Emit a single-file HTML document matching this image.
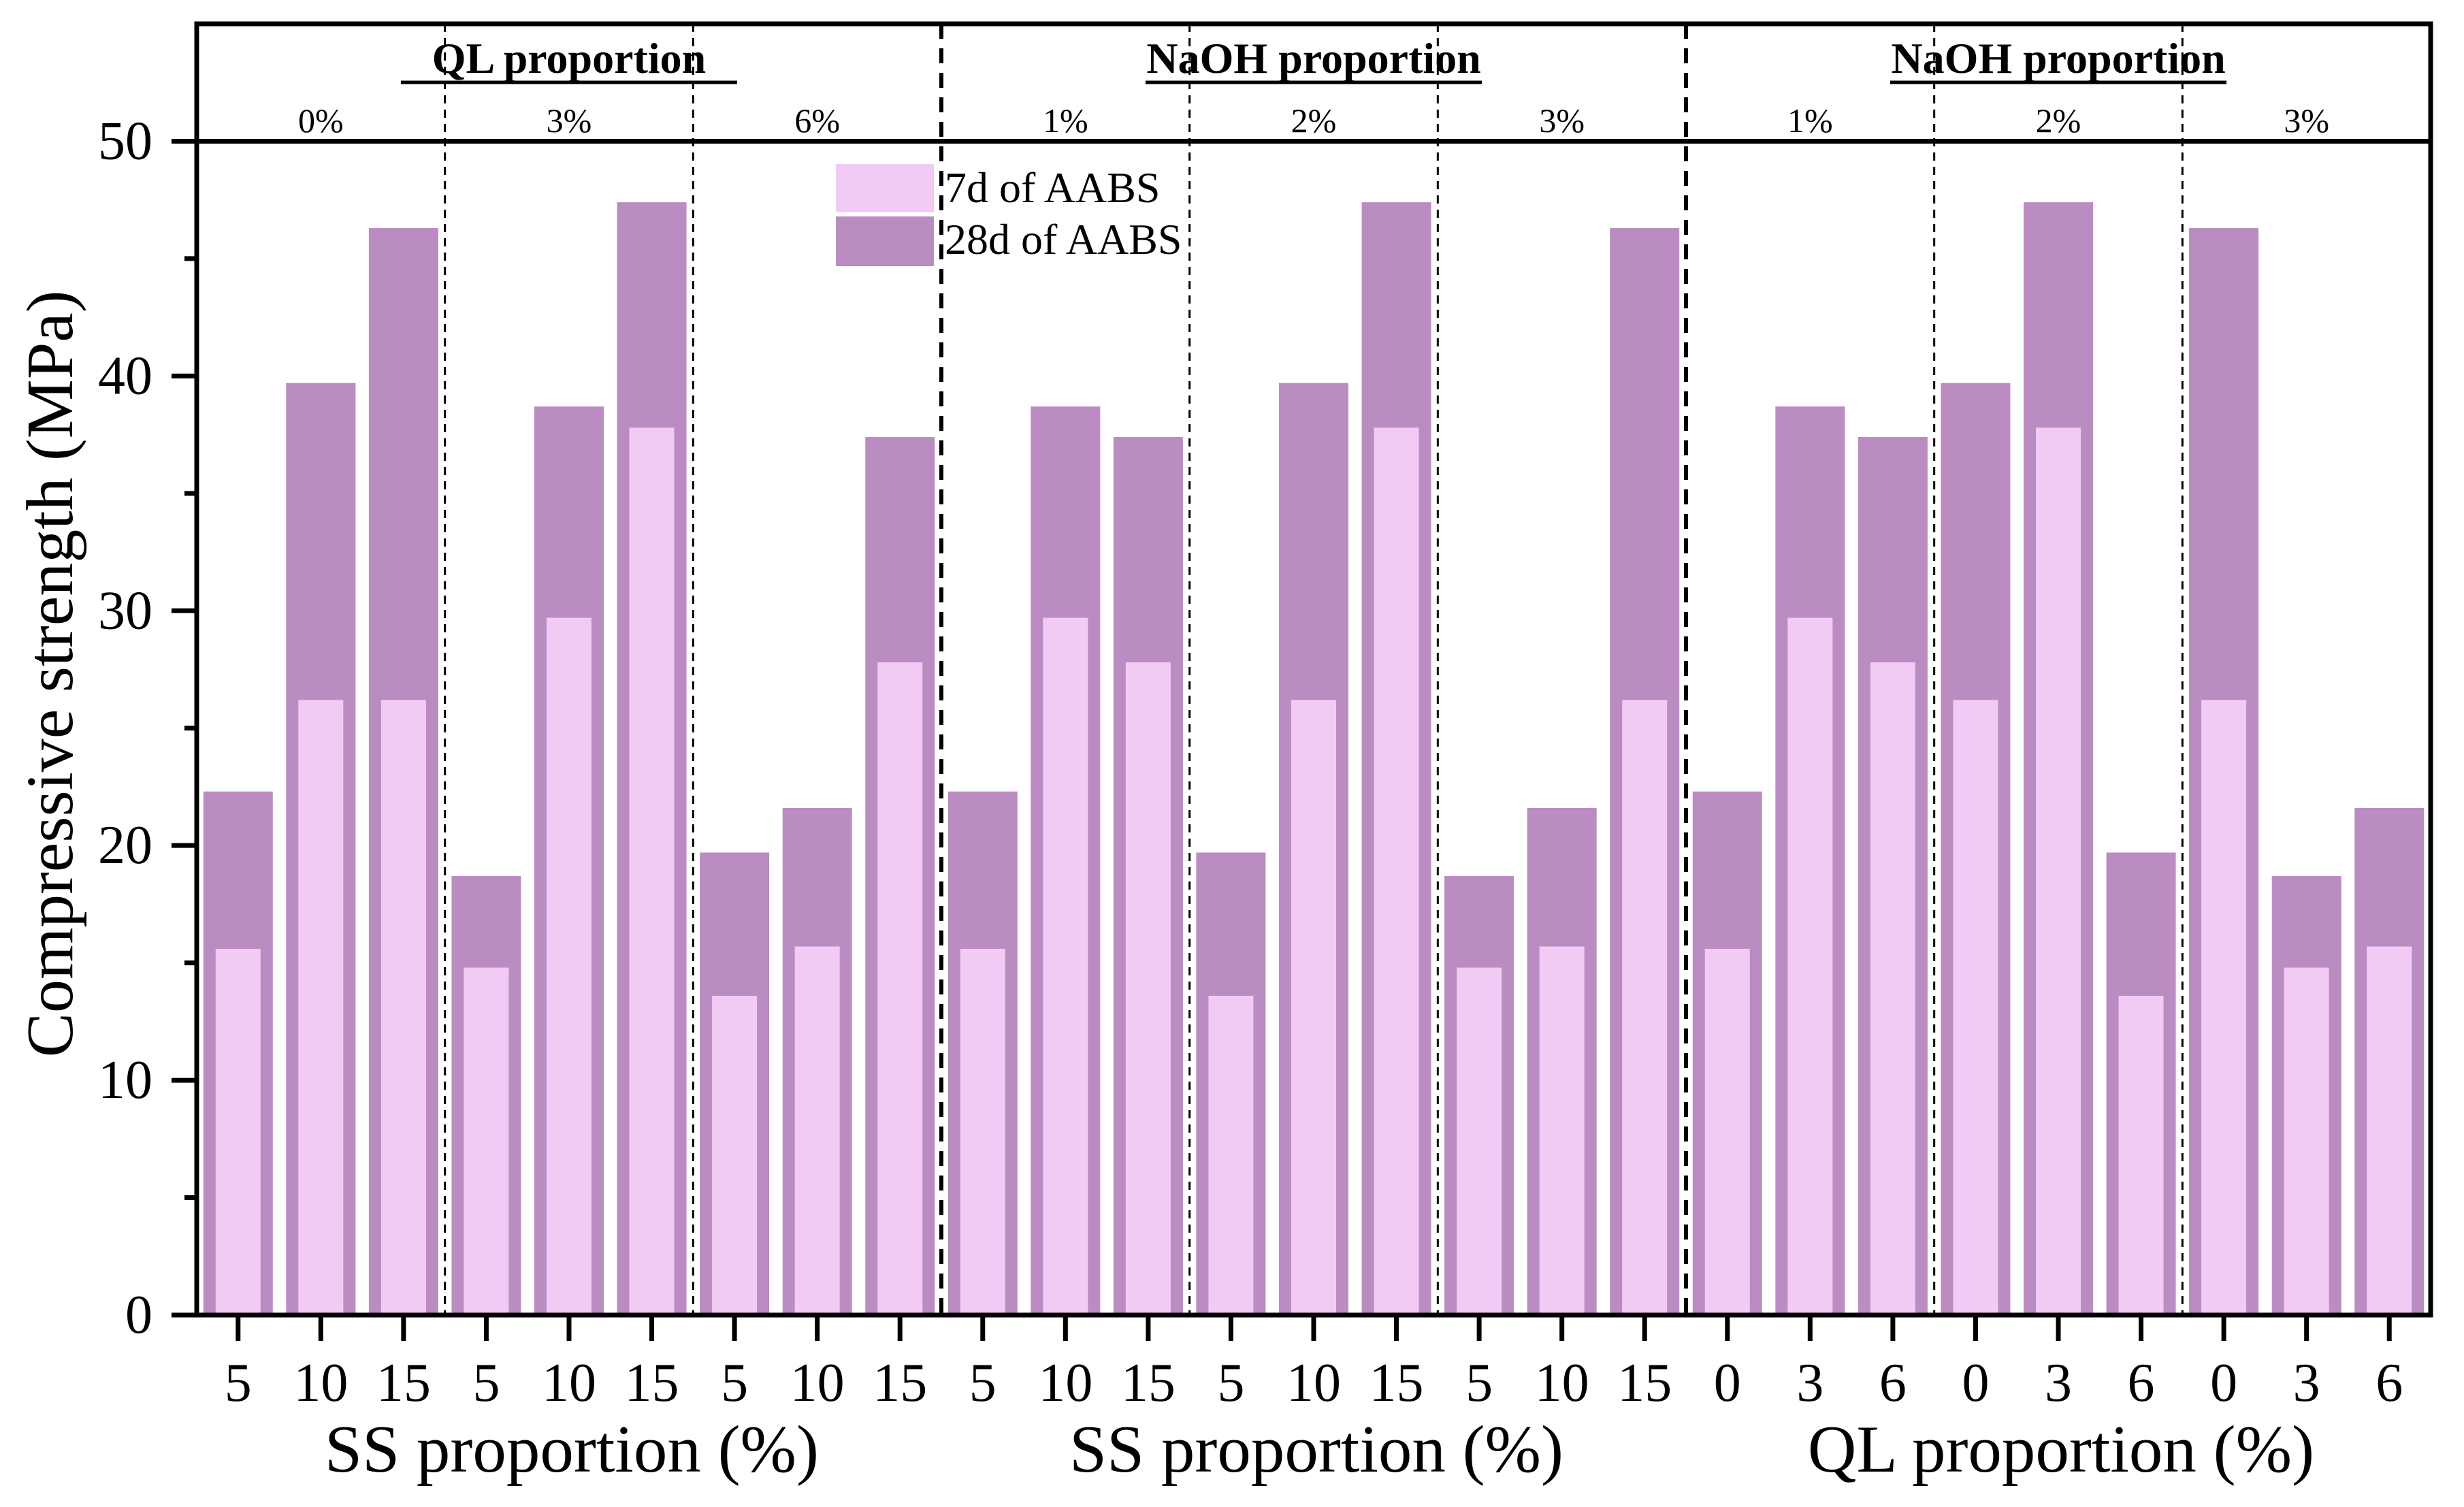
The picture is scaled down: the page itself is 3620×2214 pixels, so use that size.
<!DOCTYPE html>
<html><head><meta charset="utf-8"><style>
html,body{margin:0;padding:0;background:#fff;}
svg{display:block;font-family:"Liberation Serif",serif;}
</style></head><body>
<svg id="chart" width="3620" height="2214" viewBox="0 0 3620 2214" xmlns="http://www.w3.org/2000/svg">
<g id="bars"></g>
<g id="overlay"></g>
</svg>
<script>
const categories = ["5","10","15","5","10","15","5","10","15","5","10","15","5","10","15","5","10","15","0","3","6","0","3","6","0","3","6"];
const strength28d = [22.3,39.7,46.3,18.7,38.7,47.4,19.7,21.6,37.4,22.3,38.7,37.4,19.7,39.7,47.4,18.7,21.6,46.3,22.3,38.7,37.4,39.7,47.4,19.7,46.3,18.7,21.6];
const strength7d = [15.6,26.2,26.2,14.8,29.7,37.8,13.6,15.7,27.8,15.6,29.7,27.8,13.6,26.2,37.8,14.8,15.7,26.2,15.6,29.7,27.8,26.2,37.8,13.6,26.2,14.8,15.7];
const yTicks = [0,10,20,30,40,50];
const groupLabels = ["0%","3%","6%","1%","2%","3%","1%","2%","3%"];
const sectionHeadings = ["QL proportion","NaOH proportion","NaOH proportion"];
const xTitles = ["SS proportion (%)","SS proportion (%)","QL proportion (%)"];

const NS="http://www.w3.org/2000/svg";
const L=289,R=3571,T=35,B=1932;
const yMax=55;
const n=categories.length;
const pitch=(R-L)/n;
function xS(i){return L+pitch*(i+0.5);}
function yS(v){return B-(B-T)*v/yMax;}
function mk(tag,attrs,parent,text){const e=document.createElementNS(NS,tag);for(const k in attrs)e.setAttribute(k,attrs[k]);if(text!==undefined)e.textContent=text;parent.appendChild(e);return e;}
const gb=document.getElementById('bars');
const go=document.getElementById('overlay');

for(let i=0;i<n;i++){
  const w28=102,w7=66;
  const r1=mk('rect',{x:xS(i)-w28/2,y:yS(strength28d[i]),width:w28,height:B-yS(strength28d[i]),fill:'#BB8CC2'},gb);
  
  
  const r2=mk('rect',{x:xS(i)-w7/2,y:yS(strength7d[i]),width:w7,height:B-yS(strength7d[i]),fill:'#F2CBF5'},gb);
  
  
}

for(let k=1;k<9;k++){
  const x=L+pitch*3*k;
  const major=(k%3===0);
  const d=mk('line',{x1:x,y1:T,x2:x,y2:B,stroke:'#000','stroke-width':major?6:3,'stroke-dasharray':major?'22,14':'12,9'},go);
  
  
}
const h50=mk('line',{x1:L,y1:yS(50),x2:R,y2:yS(50),stroke:'#000','stroke-width':7},go);


const fr=mk('rect',{x:L,y:T,width:R-L,height:B-T,fill:'none',stroke:'#000','stroke-width':7},go);



for(let v=0;v<=50;v+=5){
  const major=(v%10===0);
  const t=mk('line',{x1:major?252:271,y1:yS(v),x2:L,y2:yS(v),stroke:'#000','stroke-width':7},go);
  
  
}
yTicks.forEach(v=>{
  const t=mk('text',{x:224,y:yS(v)+26,'text-anchor':'end','font-size':80},go,String(v));
  
  
});
categories.forEach((c,i)=>{
  const t=mk('line',{x1:xS(i),y1:B,x2:xS(i),y2:1970,stroke:'#000','stroke-width':7},go);
  
  
  const l=mk('text',{x:xS(i),y:2058,'text-anchor':'middle','font-size':80},go,c);
  
  
});
groupLabels.forEach((g,k)=>{
  const t=mk('text',{x:xS(3*k+1),y:194,'text-anchor':'middle','font-size':50},go,g);
  
  
});
sectionHeadings.forEach((s,k)=>{
  const cx=xS(9*k+4);
  const t=mk('text',{x:cx,y:107,'text-anchor':'middle','font-size':64,'font-weight':'bold'},go,s);
  
  
  const u=mk('line',{x1:cx-247,y1:121,x2:cx+247,y2:121,stroke:'#000','stroke-width':5},go);
  
  
  const xt=mk('text',{x:cx+4,y:2162,'text-anchor':'middle','font-size':99},go,xTitles[k]);
  
  
});
const yt=mk('text',{x:0,y:0,'text-anchor':'middle','font-size':98,transform:'translate(106,990) rotate(-90)'},go,'Compressive strength (MPa)');


const lg=mk('g',{},go);


const s1=mk('rect',{x:1228,y:241,width:144,height:71,fill:'#F2CBF5'},lg);


const s2=mk('rect',{x:1228,y:318,width:144,height:73,fill:'#BB8CC2'},lg);


const t1=mk('text',{x:1388,y:297,'font-size':64},lg,'7d of AABS');


const t2=mk('text',{x:1388,y:373,'font-size':64},lg,'28d of AABS');


</script>
</body></html>
